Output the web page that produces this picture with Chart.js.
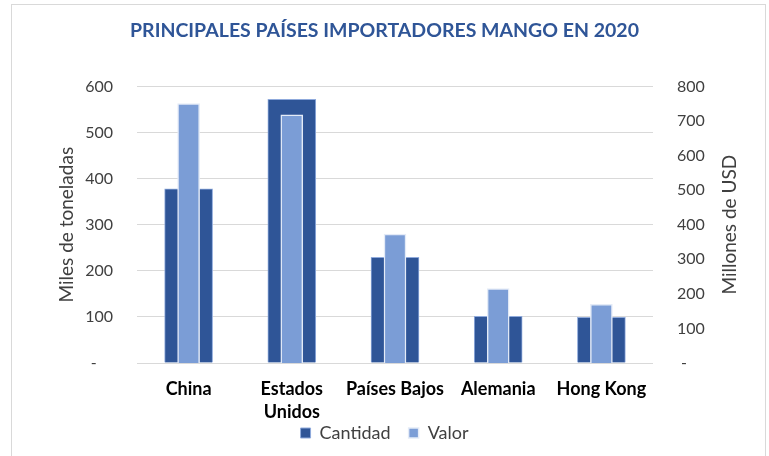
<!DOCTYPE html>
<html>
<head>
<meta charset="utf-8">
<script src="https://cdn.jsdelivr.net/npm/chart.js@4.4.1/dist/chart.umd.min.js"></script>
<style>
html,body{margin:0;padding:0;background:#fff;}
#wrap{position:absolute;left:0;top:0;width:769px;height:456px;}
</style>
</head>
<body>
<div id="wrap"><canvas id="c" width="769" height="456"></canvas></div>
<script>
const categories = [['China'], ['Estados', 'Unidos'], 'Países Bajos', 'Alemania', 'Hong Kong'];
const cantidad = [378, 572, 229, 101, 99];   // Miles de toneladas
const valor = [750, 718, 373, 215, 170];     // Millones de USD
const leftTicks = [0, 100, 200, 300, 400, 500, 600];
const rightTicks = [0, 100, 200, 300, 400, 500, 600, 700, 800];
const rightTitle = 'Millones de USD';

const FONT = 'Lato';

const framePlugin = {
  id: 'frame',
  beforeDraw(chart) {
    // let the two-line category labels extend below the (short) x-axis box
    chart.scales.x._computeLabelArea = () => undefined;
    const ctx = chart.ctx;
    ctx.save();
    ctx.fillStyle = '#ffffff';
    ctx.fillRect(0, 0, chart.width, chart.height);
    ctx.strokeStyle = '#d9d9d9';
    ctx.lineWidth = 1;
    ctx.strokeRect(11.5, 4.5, 754, 480);
    ctx.restore();
  },
  afterDraw(chart) {
    const ctx = chart.ctx;
    const area = chart.chartArea;
    ctx.save();
    ctx.translate(730, (area.top + area.bottom) / 2);
    ctx.rotate(-Math.PI / 2);
    ctx.fillStyle = '#404040';
    ctx.font = '19px ' + FONT;
    ctx.textAlign = 'center';
    ctx.textBaseline = 'middle';
    ctx.fillText(rightTitle, 0, 0);
    ctx.restore();
  }
};

new Chart(document.getElementById('c'), {
  type: 'bar',
  data: {
    labels: categories,
    datasets: [
      {
        label: 'Cantidad',
        data: cantidad,
        yAxisID: 'y',
        backgroundColor: '#2F5597',
        borderColor: '#8faadc',
        borderWidth: 1,
        barThickness: 48,
        grouped: false,
        order: 1
      },
      {
        label: 'Valor',
        data: valor,
        yAxisID: 'y1',
        backgroundColor: '#7B9DD6',
        borderColor: '#e4ebf7',
        borderWidth: 1.5,
        barThickness: 22,
        grouped: false,
        order: 0
      }
    ]
  },
  options: {
    responsive: false,
    animation: false,
    layout: { padding: { left: 31, right: 31, top: 0, bottom: 4 } },
    plugins: {
      title: {
        display: true,
        text: 'PRINCIPALES PAÍSES IMPORTADORES MANGO EN 2020',
        color: '#2F5597',
        font: { family: FONT, size: 19.5, weight: 'bold' },
        padding: { top: 19, bottom: 44 }
      },
      legend: {
        position: 'bottom',
        labels: {
          boxWidth: 10,
          boxHeight: 10,
          padding: 18,
          color: '#404040',
          font: { family: FONT, size: 18 },
          sort: (a, b) => a.datasetIndex - b.datasetIndex
        }
      },
      tooltip: { enabled: false }
    },
    scales: {
      x: {
        grid: { display: false, drawTicks: false },
        border: { display: false },
        afterFit(axis) { axis.height = 43; },
        ticks: {
          color: '#000000',
          font: { family: FONT, size: 18, weight: 'bold', lineHeight: 1.3 },
          padding: 14,
          maxRotation: 0,
          autoSkip: false
        }
      },
      y: {
        position: 'left',
        min: 0,
        max: 600,
        afterBuildTicks(axis) { axis.ticks = leftTicks.map(v => ({ value: v })); },
        afterFit(axis) { axis.width = 106; },
        grid: { color: '#d9d9d9', lineWidth: 1, drawTicks: false },
        border: { display: false },
        ticks: {
          color: '#404040',
          font: { family: FONT, size: 16 },
          padding: 24,
          callback: v => (v === 0 ? '-    ' : String(v))
        },
        title: {
          display: true,
          text: 'Miles de toneladas',
          color: '#404040',
          font: { family: FONT, size: 19 },
          padding: { top: 24, bottom: 0 }
        }
      },
      y1: {
        position: 'right',
        min: 0,
        max: 800,
        afterBuildTicks(axis) { axis.ticks = rightTicks.map(v => ({ value: v })); },
        afterFit(axis) { axis.width = 85; },
        grid: { display: false, drawTicks: false },
        border: { display: false },
        ticks: {
          color: '#404040',
          font: { family: FONT, size: 16 },
          padding: 24,
          callback: v => (v === 0 ? ' -' : String(v))
        }
      }
    }
  },
  plugins: [framePlugin]
});
</script>
</body>
</html>
